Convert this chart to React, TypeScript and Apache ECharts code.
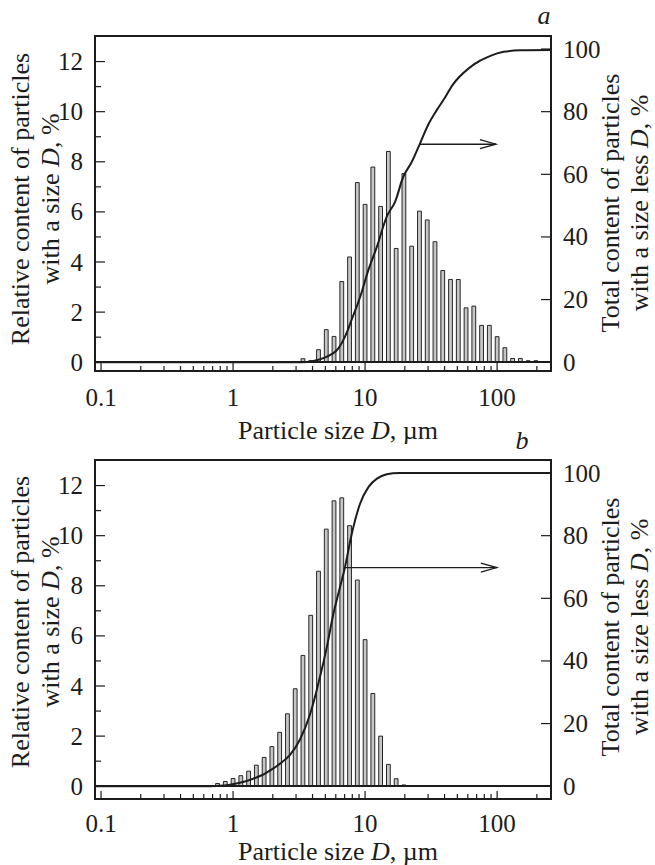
import React, { useEffect, useRef } from 'react';
import * as echarts from 'echarts';

const SERIF = '"Liberation Serif", "Times New Roman", serif';
const INK = '#1c1c1c';

// ---------- panel a ----------
const sizesA = [3.384, 3.875, 4.437, 5.08, 5.817, 6.661, 7.627, 8.733, 10, 11.45, 13.11, 15.01, 17.19, 19.68, 22.54, 25.81, 29.55, 33.84, 38.75, 44.37, 50.8, 58.17, 66.61, 76.27, 87.33, 100, 114.5, 131.1, 150.1, 171.9, 196.8];
const valuesA = [0.16, 0.08, 0.52, 1.32, 1.05, 3.24, 4.22, 7.19, 6.32, 7.81, 6.24, 8.43, 4.56, 7.55, 4.65, 6.05, 5.7, 4.83, 3.68, 3.32, 3.32, 2.19, 2.26, 1.49, 1.49, 1.04, 0.6, 0.17, 0.17, 0.08, 0.08];
const cumSizesA = [0.09, 3.3, 4.06, 4.83, 5.75, 6.3, 7.05, 7.9, 9.2, 10.6, 12.3, 14.6, 16.9, 19.5, 22.6, 26.1, 30.2, 34.9, 39.2, 48.5, 66.8, 89, 112, 150, 256];
const cumPctA = [0, 0, 0.4, 1.3, 2.9, 4.5, 8.2, 13.5, 21, 29.5, 36.9, 46.5, 51.3, 59.3, 64, 69.9, 76, 80.5, 83.7, 89.8, 95.1, 97.8, 99.1, 99.6, 99.7];
const arrowA = [26.0, 98, 69.6]; // from D, to D, at %

// ---------- panel b ----------
const sizesB = [0.763, 0.873, 1, 1.145, 1.311, 1.501, 1.719, 1.968, 2.254, 2.582, 2.955, 3.384, 3.875, 4.437, 5.08, 5.817, 6.661, 7.627, 8.733, 10, 11.45, 13.11, 15.01, 17.19, 19.68];
const valuesB = [0.13, 0.21, 0.33, 0.44, 0.62, 0.86, 1.17, 1.6, 2.17, 2.91, 3.91, 5.24, 6.84, 8.6, 10.28, 11.41, 11.53, 10.42, 8.25, 5.87, 3.72, 2.02, 0.89, 0.32, 0.07];
const cumSizesB = [0.09, 0.6, 0.75, 0.92, 1.23, 1.65, 1.9, 2.2, 2.7, 3.22, 3.83, 4.56, 5.13, 5.75, 6.46, 7.05, 7.93, 9.16, 10.6, 12.3, 14.6, 18.4, 256];
const cumPctB = [0, 0, 0.1, 0.4, 1.5, 3.5, 5, 6.8, 10, 15, 23, 35, 44.4, 55, 63.6, 70, 80.6, 90.2, 95.5, 98.2, 99.6, 100, 100];
const arrowB = [7.03, 99.5, 69.8];

// ---------- axes ----------
const xMajorTicks = [0.1, 1, 10, 100];
const xTickLabels = ['0.1', '1', '10', '100'];
const xMinorTicks = [0.2, 0.3, 0.4, 0.5, 0.6, 0.7, 0.8, 0.9, 2, 3, 4, 5, 6, 7, 8, 9, 20, 30, 40, 50, 60, 70, 80, 90, 200];
const leftMajorTicks = [0, 2, 4, 6, 8, 10, 12];
const leftMinorTicks = [1, 3, 5, 7, 9, 11];
const rightMajorTicks = [0, 20, 40, 60, 80, 100];

const xTitle = 'Particle size {i|D}, µm';
const leftTitle1 = 'Relative content of particles';
const leftTitle2 = 'with a size {i|D}, %';
const rightTitle1 = 'Total content of particles';
const rightTitle2 = 'with a size less {i|D}, %';

const richI = { i: { fontStyle: 'italic', fontFamily: SERIF, fontSize: 26, fill: INK } };

function xTickRender(len: number) {
  return (params: any, api: any) => {
    const cs = params.coordSys;
    const x = api.coord([api.value(0), api.value(1)])[0];
    const yb = cs.y + cs.height;
    return { type: 'line', shape: { x1: x, y1: yb, x2: x, y2: yb - len }, style: { stroke: INK, lineWidth: 1.2 } };
  };
}
function yTickRender(len: number, side: 'left' | 'right') {
  return (params: any, api: any) => {
    const cs = params.coordSys;
    const y = api.coord([api.value(0), api.value(1)])[1];
    const x0 = side === 'left' ? cs.x : cs.x + cs.width;
    const x1 = side === 'left' ? x0 + len : x0 - len;
    return { type: 'line', shape: { x1: x0, y1: y, x2: x1, y2: y }, style: { stroke: INK, lineWidth: 1.2 } };
  };
}
function arrowRender(params: any, api: any) {
  const p1 = api.coord([api.value(0), api.value(2)]);
  const p2 = api.coord([api.value(1), api.value(2)]);
  return {
    type: 'group',
    children: [
      { type: 'line', shape: { x1: p1[0], y1: p1[1], x2: p2[0], y2: p2[1] }, style: { stroke: INK, lineWidth: 1.3 } },
      { type: 'polyline', shape: { points: [[p2[0] - 16, p2[1] - 4.5], [p2[0], p2[1]], [p2[0] - 16, p2[1] + 4.5]] }, style: { stroke: INK, fill: 'none', lineWidth: 1.3 } },
    ],
  };
}

function matchLabel(v: number, values: number[], labels: string[]) {
  for (let i = 0; i < values.length; i++) {
    if (Math.abs(v - values[i]) <= Math.abs(values[i]) * 1e-6 + 1e-9) return labels[i];
  }
  return '';
}

const labelStyle = { fontFamily: SERIF, fontSize: 25, color: INK };

function panelAxes(gi: number, leftMin: number, leftMax: number, xMargin: number) {
  const xAxis = {
    type: 'log', logBase: 10, gridIndex: gi, min: 0.09, max: 256,
    axisLine: { show: false }, axisTick: { show: false }, splitLine: { show: false },
    axisLabel: { ...labelStyle, margin: xMargin, showMinLabel: false, showMaxLabel: false,
      formatter: (v: number) => matchLabel(v, xMajorTicks, xTickLabels) },
  };
  const yLeft = {
    type: 'value', gridIndex: gi, position: 'left', min: leftMin, max: leftMax, splitNumber: 6,
    axisLine: { show: false }, axisTick: { show: false }, splitLine: { show: false },
    axisLabel: { ...labelStyle, margin: 12,
      formatter: (v: number) => matchLabel(v, leftMajorTicks, leftMajorTicks.map(String)) },
  };
  const yRight = {
    type: 'value', gridIndex: gi, position: 'right', min: leftMin * 8, max: leftMax * 8, splitNumber: 5,
    axisLine: { show: false }, axisTick: { show: false }, splitLine: { show: false },
    axisLabel: { ...labelStyle, margin: 12,
      formatter: (v: number) => matchLabel(v, rightMajorTicks, rightMajorTicks.map(String)) },
  };
  return { xAxis, yLeft, yRight };
}

function panelSeries(gi: number, sizes: number[], values: number[], cumS: number[], cumP: number[], arrow: number[]) {
  const yl = gi * 2;
  const yr = gi * 2 + 1;
  return [
    {
      type: 'bar', xAxisIndex: gi, yAxisIndex: yl, barWidth: 4.8, z: 2,
      data: sizes.map((d, j) => [d, values[j]]),
      itemStyle: { color: '#c6c6c6', borderColor: '#262626', borderWidth: 1 },
      markLine: {
        silent: true, symbol: ['none', 'none'], label: { show: false },
        lineStyle: { color: INK, width: 2, type: 'solid' },
        data: [{ yAxis: 0 }],
      },
    },
    {
      type: 'line', xAxisIndex: gi, yAxisIndex: yr, z: 4, showSymbol: false, smooth: 0.4,
      data: cumS.map((d, j) => [d, cumP[j]]),
      lineStyle: { color: INK, width: 2, cap: 'round', join: 'round' },
    },
    {
      type: 'custom', xAxisIndex: gi, yAxisIndex: yr, z: 5, silent: true,
      renderItem: arrowRender, encode: { x: [0, 1], y: 2 },
      data: [arrow],
    },
    {
      type: 'custom', xAxisIndex: gi, yAxisIndex: yl, z: 5, silent: true,
      renderItem: xTickRender(8), encode: { x: 0, y: 1 },
      data: xMajorTicks.map((v) => [v, 1]),
    },
    {
      type: 'custom', xAxisIndex: gi, yAxisIndex: yl, z: 5, silent: true,
      renderItem: xTickRender(5), encode: { x: 0, y: 1 },
      data: xMinorTicks.map((v) => [v, 1]),
    },
    {
      type: 'custom', xAxisIndex: gi, yAxisIndex: yl, z: 5, silent: true,
      renderItem: yTickRender(10, 'left'), encode: { x: 0, y: 1 },
      data: leftMajorTicks.map((v) => [1, v]),
    },
    {
      type: 'custom', xAxisIndex: gi, yAxisIndex: yl, z: 5, silent: true,
      renderItem: yTickRender(6, 'left'), encode: { x: 0, y: 1 },
      data: leftMinorTicks.map((v) => [1, v]),
    },
    {
      type: 'custom', xAxisIndex: gi, yAxisIndex: yr, z: 5, silent: true,
      renderItem: yTickRender(10, 'right'), encode: { x: 0, y: 1 },
      data: rightMajorTicks.map((v) => [1, v]),
    },
  ];
}

function titleText(text: string, x: number, y: number, rotated: boolean, italic = false) {
  return {
    type: 'text', x, y, rotation: rotated ? Math.PI / 2 : 0, silent: true,
    style: {
      text, fontFamily: SERIF, fontSize: 26, fontStyle: italic ? 'italic' : 'normal', fill: INK,
      align: 'center', verticalAlign: 'middle', textAlign: 'center', textVerticalAlign: 'middle',
      rich: richI,
    },
  };
}

export default function App() {
  const ref = useRef<HTMLDivElement>(null);
  useEffect(() => {
    document.body.style.margin = '0';
    if (!ref.current) return;
    const chart = echarts.init(ref.current, undefined, { renderer: 'svg' });
    const a = panelAxes(0, -0.35, 13.02, 14);
    const b = panelAxes(1, -0.51, 13.02, 12);
    const option: any = {
      animation: false,
      backgroundColor: '#ffffff',
      grid: [
        { left: 95, top: 36, width: 456, height: 335, show: true, borderColor: INK, borderWidth: 2, backgroundColor: 'transparent' },
        { left: 95, top: 460, width: 456, height: 339, show: true, borderColor: INK, borderWidth: 2, backgroundColor: 'transparent' },
      ],
      xAxis: [a.xAxis, b.xAxis],
      yAxis: [a.yLeft, a.yRight, b.yLeft, b.yRight],
      series: [
        ...panelSeries(0, sizesA, valuesA, cumSizesA, cumPctA, arrowA),
        ...panelSeries(1, sizesB, valuesB, cumSizesB, cumPctB, arrowB),
      ],
      graphic: [
        titleText(leftTitle1, 20, 199, true),
        titleText(leftTitle2, 50, 199, true),
        titleText(rightTitle1, 610, 203, true),
        titleText(rightTitle2, 639, 203, true),
        titleText(xTitle, 338, 430, false),
        titleText('a', 544, 15, false, true),
        titleText(leftTitle1, 20, 622, true),
        titleText(leftTitle2, 50, 622, true),
        titleText(rightTitle1, 610, 627, true),
        titleText(rightTitle2, 639, 627, true),
        titleText(xTitle, 338, 851, false),
        titleText('b', 522, 440, false, true),
      ],
    };
    chart.setOption(option);
    return () => chart.dispose();
  }, []);
  return <div ref={ref} style={{ position: 'absolute', left: 0, top: 0, width: 655, height: 865 }} />;
}
